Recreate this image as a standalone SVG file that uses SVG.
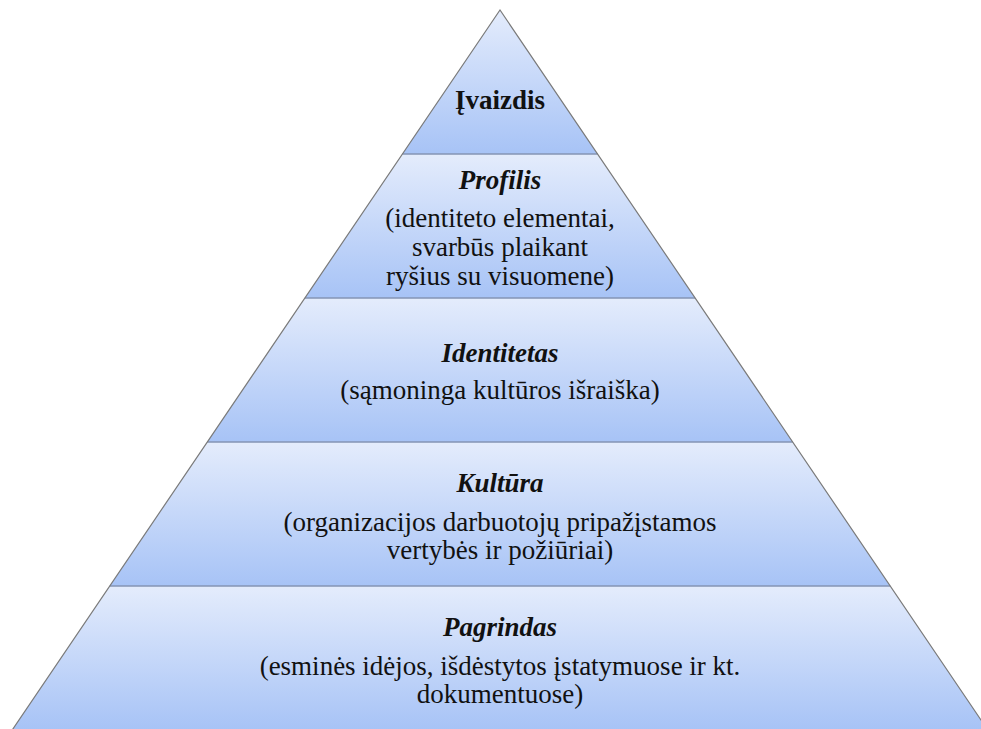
<svg xmlns="http://www.w3.org/2000/svg" width="981" height="729" viewBox="0 0 981 729">
  <defs>
    <linearGradient id="tier" x1="0" y1="0" x2="0" y2="1">
      <stop offset="0" stop-color="#e4ecfc"/>
      <stop offset="1" stop-color="#a7c3f6"/>
    </linearGradient>
    <style>
      .band { fill: url(#tier); stroke: none; }
      .sep { stroke: #8494b4; stroke-width: 1.6; fill: none; }
      .edge { stroke: #7a7a7a; stroke-width: 1.2; fill: none; }
      .lbl { font-family: "Liberation Serif", "Tinos", "Times New Roman", "DejaVu Serif", serif; font-size: 27px; fill: #111; text-anchor: middle; }
      .title { font-weight: bold; font-style: italic; }
      .top { font-weight: bold; }
    </style>
  </defs>
  <rect width="981" height="729" fill="#ffffff"/>

  <!-- pyramid tiers, apex (500,10), 144px each -->
  <g id="tier-ivaizdis">
    <polygon class="band" points="500,10 597.6,154 402.4,154"/>
    <text class="lbl top" x="500" y="109">Įvaizdis</text>
  </g>
  <g id="tier-profilis">
    <polygon class="band" points="402.4,154 597.6,154 695.1,298 304.9,298"/>
    <text class="lbl title" x="500" y="189">Profilis</text>
    <text class="lbl" x="500" y="227">(identiteto elementai,</text>
    <text class="lbl" x="500" y="256">svarbūs plaikant</text>
    <text class="lbl" x="500" y="285">ryšius su visuomene)</text>
  </g>
  <g id="tier-identitetas">
    <polygon class="band" points="304.9,298 695.1,298 792.7,442 207.3,442"/>
    <text class="lbl title" x="500" y="362">Identitetas</text>
    <text class="lbl" x="500" y="399">(sąmoninga kultūros išraiška)</text>
  </g>
  <g id="tier-kultura">
    <polygon class="band" points="207.3,442 792.7,442 890.2,586 109.8,586"/>
    <text class="lbl title" x="500" y="492">Kultūra</text>
    <text class="lbl" x="500" y="531">(organizacijos darbuotojų pripažįstamos</text>
    <text class="lbl" x="500" y="559">vertybės ir požiūriai)</text>
  </g>
  <g id="tier-pagrindas">
    <polygon class="band" points="109.8,586 890.2,586 987.8,730 12.2,730"/>
    <text class="lbl title" x="500" y="636">Pagrindas</text>
    <text class="lbl" x="500" y="675">(esminės idėjos, išdėstytos įstatymuose ir kt.</text>
    <text class="lbl" x="500" y="703">dokumentuose)</text>
  </g>

  <!-- tier dividers and outer outline -->
  <g id="connectors">
    <line class="sep" x1="402.4" y1="154" x2="597.6" y2="154"/>
    <line class="sep" x1="304.9" y1="298" x2="695.1" y2="298"/>
    <line class="sep" x1="207.3" y1="442" x2="792.7" y2="442"/>
    <line class="sep" x1="109.8" y1="586" x2="890.2" y2="586"/>
    <polyline class="edge" points="12.2,730 500,10 987.8,730"/>
  </g>
</svg>
